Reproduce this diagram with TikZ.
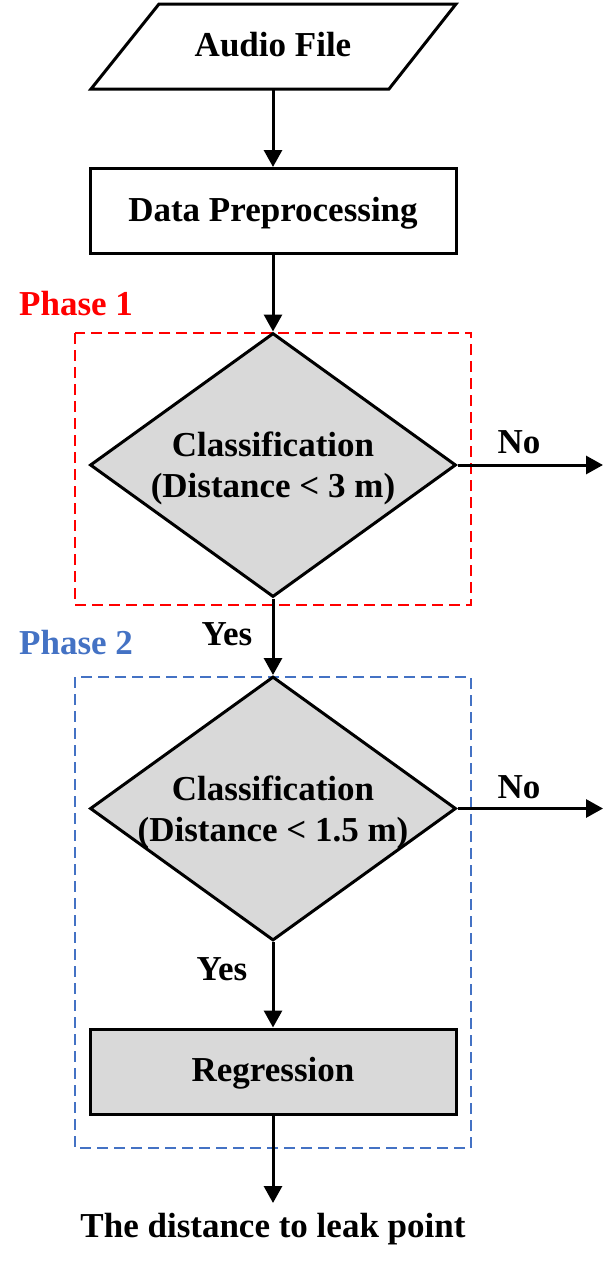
\documentclass[tikz,border=0pt]{standalone}
\usepackage{fontspec}
\setmainfont{Liberation Serif}
\usetikzlibrary{shapes.geometric,arrows.meta}
\definecolor{grayfill}{HTML}{D9D9D9}
\definecolor{phaseblue}{HTML}{4472C4}
\definecolor{phasered}{HTML}{FF0000}
\begin{document}
\begin{tikzpicture}[x=1pt,y=-1pt,
  every node/.style={font=\fontsize{35}{41}\selectfont\bfseries, inner sep=0pt},
  flowline/.style={line width=3pt,-{Triangle[length=17pt,width=18pt]}},
  procbox/.style={draw, line width=3pt, rectangle, minimum width=366pt, minimum height=85pt, text height=24pt, text depth=4pt},
  decbox/.style={draw, line width=3pt, diamond, fill=grayfill, minimum width=366pt, minimum height=264pt, shape aspect=1.386},
  phasebox/.style={line width=1.5pt, dash pattern=on 11pt off 6pt},
  lbl/.style={anchor=base}]
\useasboundingbox (0,0) rectangle (604,1266);

% phase boxes
\draw[phasebox, phasered] (75,333) rectangle (471,605);
\draw[phasebox, phaseblue] (75,677) rectangle (471,1148);
\node[anchor=base west, text=phasered] (ph1) at (19,315) {Phase 1};
\node[anchor=base west, text=phaseblue] (ph2) at (19,654) {Phase 2};

% input
\draw[line width=3pt, line join=miter] (159,4) -- (456,4) -- (389,89) -- (91,89) -- cycle;
\node[minimum width=300pt, minimum height=85pt] (audio) at (273,46.5) {};
\node[lbl] (audiotxt) at (273,56) {Audio File};

\node[procbox] (prep) at (273,211) {Data Preprocessing};

\node[decbox] (d1) at (273,465) {};
\node[align=center] (d1txt) at (273,468.5) {Classification\\(Distance < 3 m)};

\node[decbox] (d2) at (273,808.5) {};
\node[align=center] (d2txt) at (273,812) {Classification\\(Distance < 1.5 m)};

\node[procbox, fill=grayfill] (reg) at (273,1071.5) {Regression};

\coordinate (no1) at (603,465);
\coordinate (no2) at (603,808.5);
\coordinate (outend) at (273,1203);
\node[lbl] (result) at (273,1237) {The distance to leak point};

\draw[flowline] (audio.south) -- (prep.north);
\draw[flowline] (prep.south) -- (d1.north);
\draw[flowline] (d1.east) -- (no1);
\draw[flowline] (d1.south) -- (d2.north);
\draw[flowline] (d2.east) -- (no2);
\draw[flowline] (d2.south) -- (reg.north);
\draw[flowline] (reg.south) -- (outend);

\node[lbl] (nolbl1) at (519,453) {No};
\node[lbl] (nolbl2) at (519,798) {No};
\node[lbl] (yes1) at (227,645) {Yes};
\node[lbl] (yes2) at (222,980) {Yes};
\end{tikzpicture}
\end{document}
